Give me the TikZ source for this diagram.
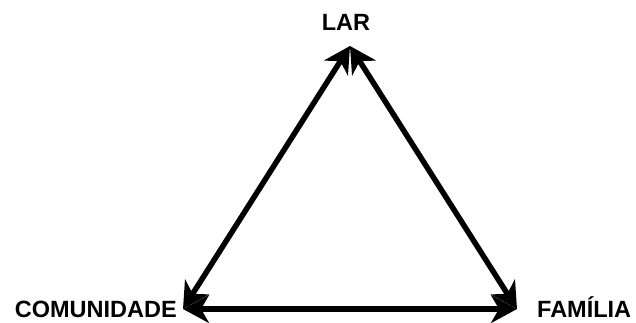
\documentclass[tikz,border=0pt]{standalone}
\usepackage{fontspec}
\setmainfont{Liberation Sans}
\usetikzlibrary{arrows.meta}
\begin{document}
\begin{tikzpicture}[x=1pt,y=1pt,
  lbl/.style={font=\fontsize{23.5}{28}\selectfont\bfseries, inner sep=0pt},
  conn/.style={line width=5.5pt, {Stealth[length=26pt,width=28pt,inset=8pt]}-{Stealth[length=26pt,width=28pt,inset=8pt]}}]
\useasboundingbox (0,0) rectangle (636,322);
\coordinate (top) at (350,276);
\coordinate (left) at (183,13);
\coordinate (right) at (517,13);
\node[lbl, anchor=base] (lar) at (346,291) {LAR};
\node[lbl, anchor=base east] (com) at (177,5) {COMUNIDADE};
\node[lbl, anchor=base west] (fam) at (537,5) {FAMÍLIA};
\draw[conn] (left) -- (top);
\draw[conn] (right) -- (top);
\draw[conn] (left) -- (right);
\end{tikzpicture}
\end{document}
